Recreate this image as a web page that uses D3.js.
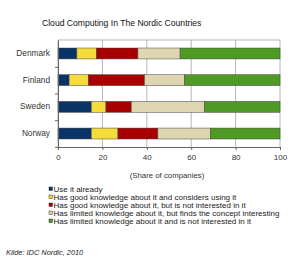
<!DOCTYPE html>
<html>
<head>
<meta charset="utf-8">
<script src="https://cdn.jsdelivr.net/npm/d3@7"></script>
<style>
  body { margin: 0; background: #fff; }
  text { font-family: "Liberation Sans", Arial, sans-serif; }
</style>
</head>
<body>
<div id="container"></div>
<script>
/* DATA */
const countries = ["Denmark", "Finland", "Sweden", "Norway"];
const series = [
  "Use it already",
  "Has good knowledge about it and considers using it",
  "Has good knowledge about it, but is not interested in it",
  "Has limited knowledge about it, but finds the concept interesting",
  "Has limited knowledge about it and is not interested in it"
];
const useAlready      = [8.5, 5.0, 15.0, 15.0];
const considersUsing  = [8.8, 8.7, 6.6, 12.0];
const notInterested   = [18.7, 25.3, 11.4, 18.0];
const conceptInterest = [19.0, 18.0, 33.0, 23.6];
const limitedNotInt   = [45.0, 43.0, 34.0, 31.4];
const xTicks = [0, 20, 40, 60, 80, 100];
const colors = ["#0a3366", "#f5dc3a", "#a80000", "#ded6b0", "#4e9a24"];

/* CONSTANTS */
const width = 300, height = 259;
const margin = { top: 40, bottom: 112, left: 58, right: 20 };

const table = countries.map((c, i) => ({
  country: c,
  s0: useAlready[i], s1: considersUsing[i], s2: notInterested[i],
  s3: conceptInterest[i], s4: limitedNotInt[i]
}));
const keys = ["s0", "s1", "s2", "s3", "s4"];
const stacked = d3.stack().keys(keys)(table);

/* SCALES */
const xScale = d3.scaleLinear()
  .domain([0, 100])
  .range([margin.left, width - margin.right]);

const yScale = d3.scaleBand()
  .domain(countries)
  .range([margin.top, height - margin.bottom])
  .paddingInner(0.59)
  .paddingOuter(0.3);

const svg = d3.select("#container")
  .append("svg")
  .attr("width", width)
  .attr("height", height);

// title
svg.append("text")
  .attr("x", 42)
  .attr("y", 26)
  .attr("font-size", 8.6)
  .attr("fill", "#111")
  .text("Cloud Computing In The Nordic Countries");

// vertical grid
svg.append("g")
  .selectAll("line")
  .data(xTicks)
  .join("line")
  .attr("x1", d => xScale(d)).attr("x2", d => xScale(d))
  .attr("y1", margin.top).attr("y2", height - margin.bottom)
  .attr("stroke", "#999")
  .attr("stroke-width", 0.7);

// top border
svg.append("line")
  .attr("x1", xScale(0)).attr("x2", xScale(100))
  .attr("y1", margin.top).attr("y2", margin.top)
  .attr("stroke", "#999").attr("stroke-width", 0.7);

// bars
svg.append("g")
  .selectAll("g")
  .data(stacked)
  .join("g")
  .attr("fill", (d, i) => colors[i])
  .selectAll("rect")
  .data(d => d)
  .join("rect")
  .attr("x", d => xScale(d[0]))
  .attr("y", d => yScale(d.data.country))
  .attr("width", d => xScale(d[1]) - xScale(d[0]))
  .attr("height", yScale.bandwidth())
  .attr("stroke", "#444")
  .attr("stroke-width", 0.5);

// x axis
const xAxis = d3.axisBottom(xScale).tickValues(xTicks).tickSize(3).tickPadding(4);
svg.append("g")
  .attr("transform", `translate(0,${height - margin.bottom})`)
  .call(xAxis)
  .call(g => g.select(".domain").attr("stroke", "#666"))
  .call(g => g.selectAll(".tick line").attr("stroke", "#666"))
  .call(g => g.selectAll("text").attr("font-size", 8).attr("fill", "#333")
    .style("font-family", "'Liberation Sans', Arial, sans-serif"));

// y axis
const yAxis = d3.axisLeft(yScale).tickSize(0).tickPadding(8);
svg.append("g")
  .attr("transform", `translate(${margin.left},0)`)
  .call(yAxis)
  .call(g => g.select(".domain").attr("stroke", "#666"))
  .call(g => g.selectAll("text").attr("font-size", 8.3).attr("fill", "#333")
    .style("font-family", "'Liberation Sans', Arial, sans-serif"));

// small separators between categories
const step = yScale.step();
svg.append("g")
  .selectAll("line")
  .data(countries)
  .join("line")
  .attr("x1", margin.left - 3).attr("x2", margin.left)
  .attr("y1", d => yScale(d) + yScale.bandwidth() + step * yScale.paddingInner() / 2 + 0.5)
  .attr("y2", d => yScale(d) + yScale.bandwidth() + step * yScale.paddingInner() / 2 + 0.5)
  .attr("stroke", "#666");

// axis label
svg.append("text")
  .attr("x", 167)
  .attr("y", 178)
  .attr("text-anchor", "middle")
  .attr("font-size", 7.8)
  .attr("fill", "#333")
  .text("(Share of companies)");

// legend
const legend = svg.append("g")
  .selectAll("g")
  .data(series)
  .join("g")
  .attr("transform", (d, i) => `translate(49,${189 + i * 8})`);

legend.append("rect")
  .attr("x", 0).attr("y", -2)
  .attr("width", 3.5).attr("height", 3.5)
  .attr("fill", (d, i) => colors[i])
  .attr("stroke", "#333")
  .attr("stroke-width", 0.5);

legend.append("text")
  .attr("x", 4.5)
  .attr("y", 2.8)
  .attr("font-size", 8)
  .attr("fill", "#222")
  .text(d => d);

// source
svg.append("text")
  .attr("x", 6)
  .attr("y", 255)
  .attr("font-size", 7.4)
  .attr("font-style", "italic")
  .attr("fill", "#222")
  .text("Kilde: IDC Nordic, 2010");
</script>
</body>
</html>
